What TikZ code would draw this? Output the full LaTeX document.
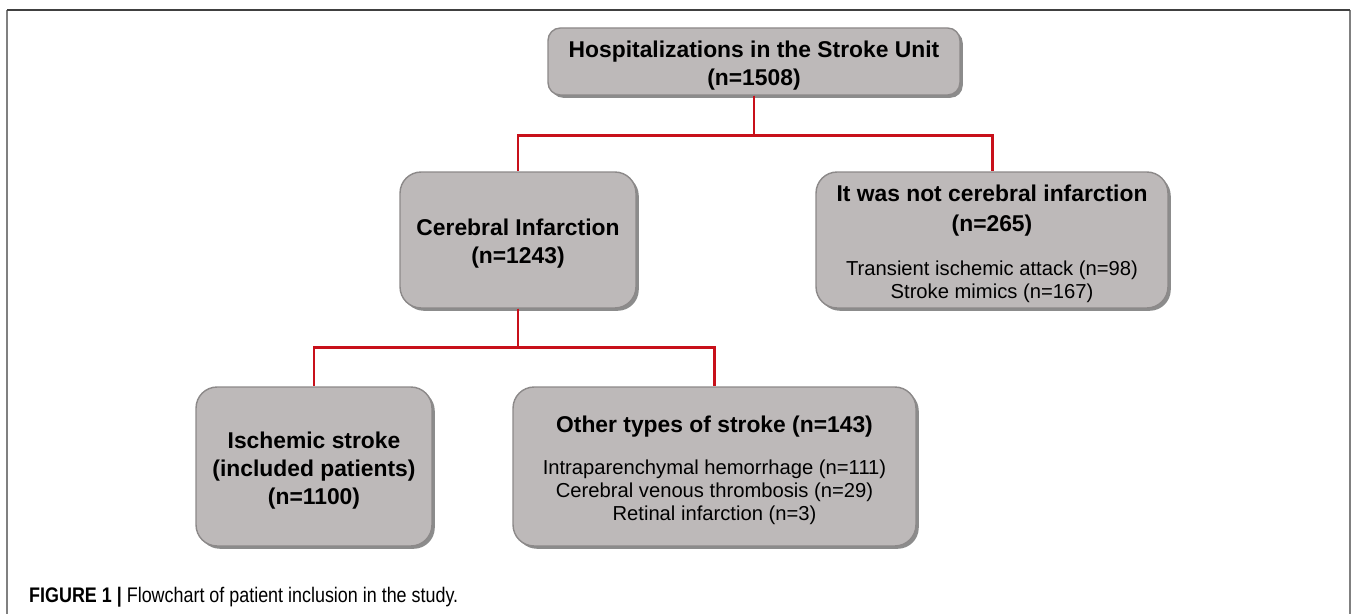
\documentclass[tikz,border=0pt]{standalone}
\usepackage{fontspec}
\setmainfont{Liberation Sans}
\newfontfamily\capfont[FakeStretch=0.85]{Liberation Sans}
\usetikzlibrary{shadows}
\definecolor{boxgray}{RGB}{189,185,185}
\definecolor{boxedge}{RGB}{140,137,137}
\definecolor{linkred}{RGB}{200,16,26}
\definecolor{framegray}{RGB}{128,128,128}
\tikzset{
  box/.style={draw=boxedge, fill=boxgray, line width=0.8pt, rounded corners=12pt,
    align=center, inner sep=0pt, font=\fontsize{11.5}{13}\selectfont,
    drop shadow={shadow xshift=1.6pt, shadow yshift=-1.6pt, fill=black, opacity=0.45}},
  link/.style={linkred, line width=1.7pt},
  head/.style={font=\bfseries\fontsize{13}{16}\selectfont}
}
\newcommand{\boxtitle}[1]{{\bfseries\fontsize{13}{13}\selectfont #1}}
\newcommand{\topstrut}{\rule{0pt}{14pt}}
\begin{document}
\begin{tikzpicture}[x=0.02cm, y=-0.02cm]
        \useasboundingbox (0,0) rectangle (1357,614);
        % cornice
        \draw[framegray, line width=1.2pt] (7,614) -- (7,10);
        \draw[framegray, line width=1.2pt] (1350,614) -- (1350,10);
        \draw[black!75, line width=0.9pt] (7,10) -- (1350,10);

        % riquadri
        \node[box, head, rounded corners=7pt, minimum width=8.24cm, minimum height=1.34cm] (hosp) at (754,61.5)
          {\topstrut Hospitalizations in the Stroke Unit\\(n=1508)};
        \node[box, head, minimum width=4.72cm, minimum height=2.72cm] (cereb) at (518,240)
          {\topstrut Cerebral Infarction\\(n=1243)};
        \node[box, minimum width=7.04cm, minimum height=2.72cm] (notci) at (992,240)
          {\topstrut\boxtitle{It was not cerebral infarction}\\[4pt]\boxtitle{(n=265)}\\[12pt]
           Transient ischemic attack (n=98)\\Stroke mimics (n=167)};
        \node[box, head, minimum width=4.72cm, minimum height=3.18cm] (isch) at (314,466.5)
          {\topstrut Ischemic stroke\\(included patients)\\(n=1100)};
        \node[box, minimum width=8.06cm, minimum height=3.18cm] (other) at (714.5,466.5)
          {\topstrut\boxtitle{Other types of stroke (n=143)}\\[11pt]
           Intraparenchymal hemorrhage (n=111)\\Cerebral venous thrombosis (n=29)\\Retinal infarction (n=3)};

        % collegamenti
        \draw[link] (hosp.south) -- ++(0,40) -| (cereb.north);
        \draw[link] (hosp.south) -- ++(0,40) -| (notci.north);
        \draw[link] (cereb.south) -- ++(0,39) -| (isch.north);
        \draw[link] (cereb.south) -- ++(0,39) -| (other.north);

        \node[anchor=base west, font=\capfont\fontsize{12}{13}\selectfont] (caption) at (23,603)
          {\textbf{FIGURE 1 |} Flowchart of patient inclusion in the study.};
\end{tikzpicture}
\end{document}
